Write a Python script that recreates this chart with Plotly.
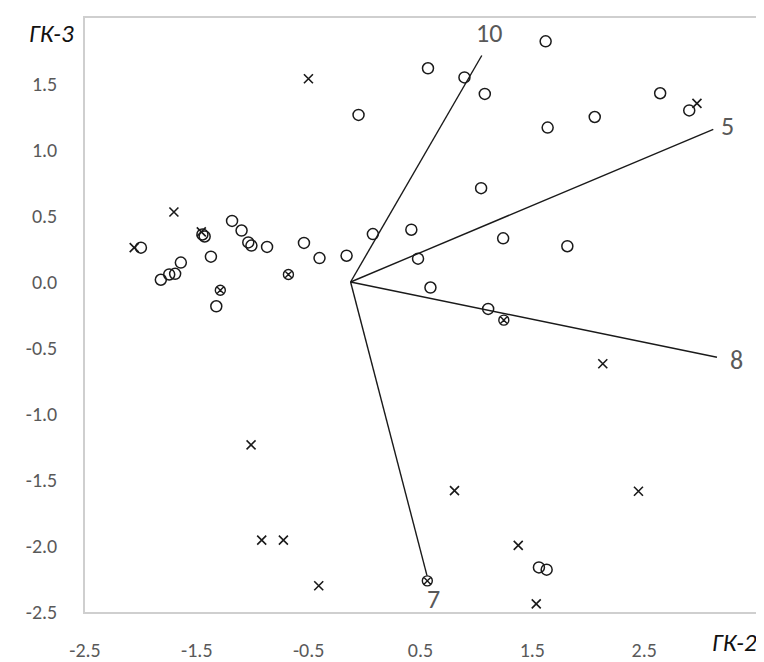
import plotly.graph_objects as go

# ---- data ----
circle_x = [-2.00, -1.822, -1.747, -1.694, -1.643, -1.45, -1.43, -1.374, -1.326, -1.185,
            -1.10, -1.04, -1.012, -0.872, -0.542, -0.403, -0.161, 0.074, 0.418, 0.478,
            0.589, 1.239, 1.105, 1.042, 1.813, -0.054, 0.567, 0.893, 1.075, 1.619,
            2.643, 2.903, 2.058, 1.637, 1.559, 1.628]
circle_y = [0.26, 0.017, 0.057, 0.062, 0.147, 0.36, 0.345, 0.192, -0.184, 0.463,
            0.39, 0.30, 0.276, 0.266, 0.296, 0.181, 0.199, 0.363, 0.396, 0.177,
            -0.042, 0.331, -0.204, 0.711, 0.271, 1.266, 1.619, 1.55, 1.425, 1.823,
            1.43, 1.30, 1.25, 1.17, -2.162, -2.179]

cross_x = [-2.06, -1.705, -1.46, -0.502, 2.972, 2.13, -1.015, 0.804, 2.449, -0.92,
           -0.726, 1.374, -0.41, 1.535]
cross_y = [0.26, 0.53, 0.38, 1.54, 1.353, -0.619, -1.234, -1.58, -1.585, -1.955,
           -1.955, -1.995, -2.301, -2.438]

cx_x = [-1.29, -0.681, 1.245, 0.561]
cx_y = [-0.062, 0.057, -0.289, -2.264]

vec_labels = ["10", "5", "8", "7"]
vec_x0 = -0.125
vec_y0 = 0.0
vec_x = [1.048, 3.118, 3.151, 0.558]
vec_y = [1.716, 1.157, -0.570, -2.224]

x_ticks = [-2.5, -1.5, -0.5, 0.5, 1.5, 2.5]
x_ticktext = ["-2.5", "-1.5", "-0.5", "0.5", "1.5", "2.5"]
y_ticks = [1.5, 1.0, 0.5, 0.0, -0.5, -1.0, -1.5, -2.0, -2.5]
y_ticktext = ["1.5", "1.0", "0.5", "0.0", "-0.5", "-1.0", "-1.5", "-2.0", "-2.5"]

x_title = "ГК-2"
y_title = "ГК-3"

FONT = "Calibri, Carlito, 'Liberation Sans Narrow', 'Open Sans', sans-serif"
GRAY = "#595959"

fig = go.Figure()

# vectors
for lab, xe, ye in zip(vec_labels, vec_x, vec_y):
    fig.add_trace(go.Scatter(x=[vec_x0, xe], y=[vec_y0, ye], mode="lines",
                             line=dict(color="#1a1a1a", width=1.4),
                             showlegend=False, hoverinfo="skip"))

fig.add_trace(go.Scatter(x=circle_x, y=circle_y, mode="markers",
                         marker=dict(symbol="circle-open", size=11,
                                     line=dict(color="#1a1a1a", width=1.5), color="#1a1a1a"),
                         showlegend=False))
fig.add_trace(go.Scatter(x=cross_x, y=cross_y, mode="markers",
                         marker=dict(symbol="x-thin-open", size=9,
                                     line=dict(color="#1a1a1a", width=1.6), color="#1a1a1a"),
                         showlegend=False))
fig.add_trace(go.Scatter(x=cx_x, y=cx_y, mode="markers",
                         marker=dict(symbol="circle-x-open", size=10,
                                     line=dict(color="#1a1a1a", width=1.4), color="#1a1a1a"),
                         showlegend=False))

shifts = {"10": (7, 22), "5": (14, 3), "8": (20, -3), "7": (7, -23)}
for lab, xe, ye in zip(vec_labels, vec_x, vec_y):
    dx, dy = shifts[lab]
    fig.add_annotation(x=xe, y=ye, text=lab, showarrow=False, xshift=dx, yshift=dy,
                       xanchor="center", yanchor="middle",
                       font=dict(family=FONT, size=26, color=GRAY))

# axis names (italic)
fig.add_annotation(xref="paper", yref="paper", x=0, y=1, text="<i>" + y_title + "</i>",
                   showarrow=False, xanchor="center", yanchor="middle", xshift=-34, yshift=-15,
                   font=dict(family=FONT, size=25, color="#111"))
fig.add_annotation(xref="paper", yref="paper", x=1, y=0, text="<i>" + x_title + "</i>",
                   showarrow=False, xanchor="center", yanchor="middle", xshift=-22, yshift=-30,
                   font=dict(family=FONT, size=25, color="#111"))

fig.update_layout(
    width=764, height=662,
    margin=dict(l=77, r=16, t=8, b=49),
    paper_bgcolor="white", plot_bgcolor="white",
    font=dict(family=FONT),
    xaxis=dict(range=[-2.5, 3.5], tickmode="array", tickvals=x_ticks, ticktext=x_ticktext,
               showgrid=False, zeroline=False, showline=True, mirror=True,
               linecolor="#cfcfcf", linewidth=1.5,
               ticks="outside", ticklen=19, tickcolor="rgba(0,0,0,0)",
               tickfont=dict(family=FONT, size=20, color=GRAY)),
    yaxis=dict(range=[-2.5, 2.0], tickmode="array", tickvals=y_ticks, ticktext=y_ticktext,
               showgrid=False, zeroline=False, showline=True, mirror=True,
               linecolor="#cfcfcf", linewidth=1.5,
               ticks="outside", ticklen=22, tickcolor="rgba(0,0,0,0)",
               tickfont=dict(family=FONT, size=20, color=GRAY)),
)

fig.write_html("out.html")
